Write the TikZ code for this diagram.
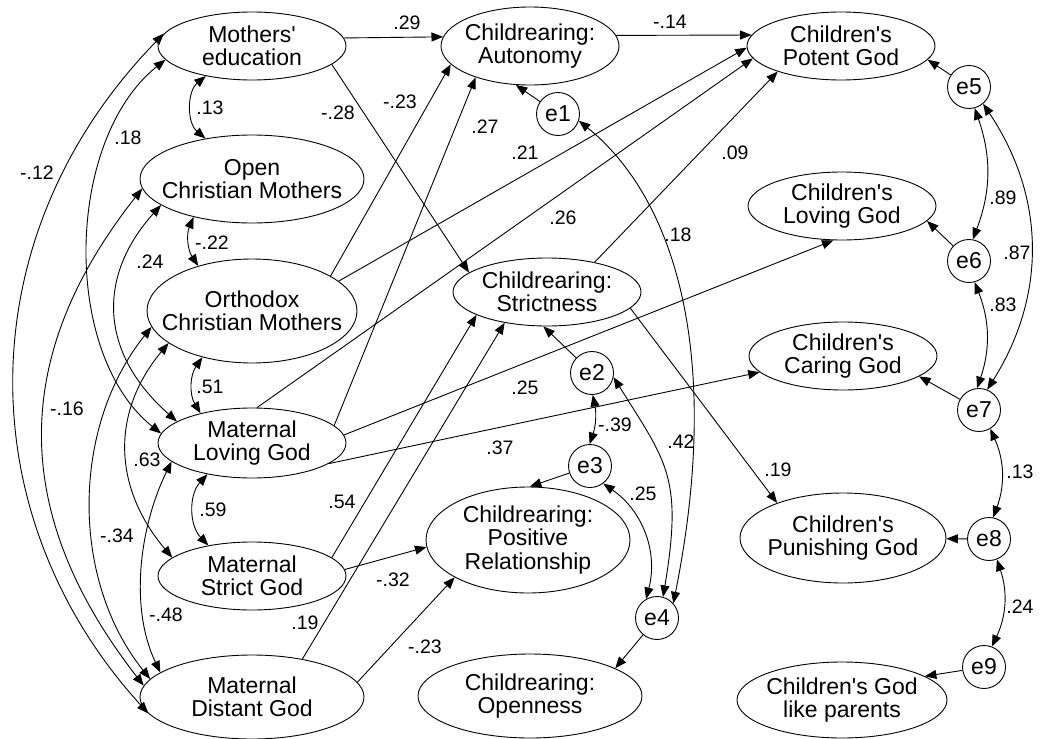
\documentclass[tikz,border=0pt]{standalone}
\usepackage{fontspec}
\setmainfont{Liberation Sans}
\usetikzlibrary{arrows.meta,shapes.geometric}
\newcommand\myNodeFont{\fontsize{23}{23.3}\selectfont}
\newcommand\myLblFont{\fontsize{19.5}{20}\selectfont}
\newcommand\myap{\textquotesingle}
\begin{document}
\begin{tikzpicture}[x=1pt,y=-1pt,line width=0.9pt,
 ell/.style={ellipse,draw,inner sep=0pt},
 txt/.style={align=center,font=\myNodeFont,inner sep=0pt},
 err/.style={circle,draw,minimum size=43pt,inner sep=0pt,font=\myNodeFont},
 lbl/.style={font=\myLblFont,inner sep=0pt},
 arr/.style={-{Triangle[length=11.5pt,width=9pt]}},
 cov/.style={{Triangle[length=11.5pt,width=9pt]}-{Triangle[length=11.5pt,width=9pt]}}]
\useasboundingbox (0,0) rectangle (1045,739);

% left column
\node[ell,minimum width=188pt,minimum height=68pt] (ME) at (252,46) {};
\node[txt] (MEt) at (ME) {Mothers\myap\\education};
\node[ell,minimum width=224pt,minimum height=88pt] (OCM) at (252,179) {};
\node[txt] (OCMt) at (OCM) {Open\\Christian Mothers};
\node[ell,minimum width=210pt,minimum height=104pt] (ORC) at (252,311) {};
\node[txt] (ORCt) at (ORC) {Orthodox\\Christian Mothers};
\node[ell,minimum width=188pt,minimum height=70pt] (MLG) at (252,443) {};
\node[txt] (MLGt) at (MLG) {Maternal\\Loving God};
\node[ell,minimum width=188pt,minimum height=68pt] (MSG) at (252,576) {};
\node[txt] (MSGt) at (MSG) {Maternal\\Strict God};
\node[ell,minimum width=224pt,minimum height=84pt] (MDG) at (252,697) {};
\node[txt] (MDGt) at (MDG) {Maternal\\Distant God};

% middle column
\node[ell,minimum width=178pt,minimum height=78pt] (AUT) at (530,46) {};
\node[txt] (AUTt) at (AUT) {Childrearing:\\Autonomy};
\node[ell,minimum width=188pt,minimum height=68pt] (STR) at (547,292) {};
\node[txt] (STRt) at (STR) {Childrearing:\\Strictness};
\node[ell,minimum width=204pt,minimum height=106pt] (POS) at (528,540) {};
\node[txt] (POSt) at (POS) {Childrearing:\\Positive\\Relationship};
\node[ell,minimum width=224pt,minimum height=84pt] (OPN) at (530,696) {};
\node[txt] (OPNt) at (OPN) {Childrearing:\\Openness};

% right column
\node[ell,minimum width=188pt,minimum height=68pt] (CPG) at (841,46) {};
\node[txt] (CPGt) at (CPG) {Children\myap s\\Potent God};
\node[ell,minimum width=188pt,minimum height=68pt] (CLG) at (842,206) {};
\node[txt] (CLGt) at (CLG) {Children\myap s\\Loving God};
\node[ell,minimum width=188pt,minimum height=68pt] (CCG) at (843,356) {};
\node[txt] (CCGt) at (CCG) {Children\myap s\\Caring God};
\node[ell,minimum width=206pt,minimum height=90pt] (CPU) at (843,538) {};
\node[txt] (CPUt) at (CPU) {Children\myap s\\Punishing God};
\node[ell,minimum width=210pt,minimum height=76pt] (CGP) at (842,700) {};
\node[txt] (CGPt) at (CGP) {Children\myap s God\\like parents};

% error terms
\node[err] (e1) at (558,114) {e1};
\node[err] (e2) at (592,373) {e2};
\node[err] (e3) at (590,466) {e3};
\node[err] (e4) at (657,618) {e4};
\node[err] (e5) at (969,87) {e5};
\node[err] (e6) at (969,261) {e6};
\node[err] (e7) at (979,410) {e7};
\node[err] (e8) at (989,539) {e8};
\node[err] (e9) at (984,667) {e9};

% directed paths
\draw[arr] (ME.5) -- (AUT.174);
\draw[arr] (ME.-13) -- (STR.166);
\draw[arr] (ORC.24) -- (AUT.193);
\draw[arr] (MLG.12) -- (AUT.210);
\draw[arr] (ORC.19) -- (CPG.181);
\draw[arr] (MLG.82) -- (CPG.188);
\draw[arr] (STR.32) -- (CPG.202);
\draw[arr] (AUT.7) -- (CPG.173);
\draw[arr] (MLG.5) -- (CLG.256);
\draw[arr] (MLG.-15) -- (CCG.191);
\draw[arr] (STR.-11) -- (CPU.152);
\draw[arr] (MSG.4) -- (POS.184);
\draw[arr] (MDG.8) -- (POS.207);
\draw[arr] (MSG.13) -- (STR.198);
\draw[arr] (MDG.37) -- (STR.216);

% error paths
\draw[arr] (e1) -- (AUT.250);
\draw[arr] (e2) -- (STR.264);
\draw[arr] (e3) -- (POS.88);
\draw[arr] (e4) -- (OPN.18);
\draw[arr] (e5) -- (CPG.351);
\draw[arr] (e6) -- (CLG.350);
\draw[arr] (e7) -- (CCG.345);
\draw[arr] (e8) -- (CPU);
\draw[arr] (e9) -- (CGP.16);

% covariances left
\draw[cov] (ME.213) to[bend right=50] (OCM.139);
\draw[cov] (OCM.213) to[bend right=28] (ORC.140);
\draw[cov] (ORC.223) to[bend right=33] (MLG.150);
\draw[cov] (MLG.215) to[bend right=43] (MSG.145);
\draw[cov] (ME.189) .. controls +(-100,80) and +(-100,-80) .. (MLG.174);
\draw[cov] (ME.172) .. controls +(-195,200) and +(-182,-200) .. (MDG.189);
\draw[cov] (OCM.185) .. controls +(-134,170) and +(-132,-170) .. (MDG.174);
\draw[cov] (OCM.196) .. controls +(-63,70) and +(-79,-70) .. (MLG.164);
\draw[cov] (ORC.189) .. controls +(-80,100) and +(-80,-100) .. (MDG.170);
\draw[cov] (ORC.201) .. controls +(-58,70) and +(-59,-70) .. (MSG.167);
\draw[cov] (MLG.193) .. controls +(-32,65) and +(-31,-65) .. (MDG.165);

% covariances right
\draw[cov] (e1.-18) .. controls +(93,75) and +(51,-255) .. (e4.42);
\draw[cov] (e2.-11) .. controls +(53,85) and +(20,-120) .. (e4.74);
\draw[cov] (e2.-88) to[bend left=15] (e3.91);
\draw[cov] (e3.-53) to[bend left=35] (e4.120);
\draw[cov] (e5.-75) to[bend left=20] (e6.80);
\draw[cov] (e5.-50) to[bend left=33] (e7.68);
\draw[cov] (e6.-75) to[bend left=20] (e7.95);
\draw[cov] (e7.-59) to[bend left=22] (e8.79);
\draw[cov] (e8.-69) to[bend left=22] (e9.69);

% labels
\node[lbl] (l29) at (407,23) {.29};
\node[lbl] (l14) at (670,22) {-.14};
\node[lbl] (l13a) at (210,108) {.13};
\node[lbl] (l22) at (212,243) {-.22};
\node[lbl] (l51) at (210,387) {.51};
\node[lbl] (l59) at (213,510) {.59};
\node[lbl] (l18a) at (128,138) {.18};
\node[lbl] (l12) at (37,173) {-.12};
\node[lbl] (l28) at (338,113) {-.28};
\node[lbl] (l23a) at (400,102) {-.23};
\node[lbl] (l24a) at (150,262) {.24};
\node[lbl] (l16) at (67,409) {-.16};
\node[lbl] (l63) at (147,460) {.63};
\node[lbl] (l34) at (117,536) {-.34};
\node[lbl] (l48) at (166,615) {-.48};
\node[lbl] (l54) at (342,502) {.54};
\node[lbl] (l19a) at (305,623) {.19};
\node[lbl] (l32) at (393,580) {-.32};
\node[lbl] (l23b) at (425,647) {-.23};
\node[lbl] (l27) at (485,127) {.27};
\node[lbl] (l21) at (525,153) {.21};
\node[lbl] (l26) at (563,218) {.26};
\node[lbl] (l18b) at (678,235) {.18};
\node[lbl] (l09) at (735,153) {.09};
\node[lbl] (l25a) at (525,388) {.25};
\node[lbl] (l37) at (500,448) {.37};
\node[lbl] (l39) at (615,425) {-.39};
\node[lbl] (l42) at (681,442) {.42};
\node[lbl] (l25b) at (643,494) {.25};
\node[lbl] (l19b) at (778,470) {.19};
\node[lbl] (l89) at (1003,198) {.89};
\node[lbl] (l87) at (1017,253) {.87};
\node[lbl] (l83) at (1003,305) {.83};
\node[lbl] (l13b) at (1020,472) {.13};
\node[lbl] (l24b) at (1020,607) {.24};
\end{tikzpicture}
\end{document}
